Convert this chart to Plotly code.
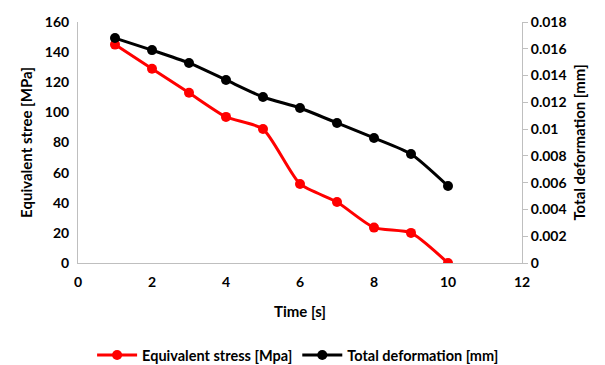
import plotly.graph_objects as go

time_s = [1, 2, 3, 4, 5, 6, 7, 8, 9, 10]
stress_mpa = [145, 129, 113, 97, 89, 52.5, 40.5, 23.5, 20, 0]
deformation_mm = [0.0168, 0.0159, 0.01494, 0.01367, 0.0124, 0.01158, 0.01046, 0.00934, 0.00814, 0.00575]

font_family = "Lato"
axis_col = "#bfbfbf"

fig = go.Figure()
fig.add_trace(go.Scatter(
    x=time_s, y=stress_mpa, name="Equivalent stress [Mpa]",
    mode="lines+markers", line=dict(color="#ff0000", width=3, shape="spline", smoothing=0.6),
    marker=dict(size=10, color="#ff0000"), yaxis="y"))
fig.add_trace(go.Scatter(
    x=time_s, y=deformation_mm, name="Total deformation [mm]",
    mode="lines+markers", line=dict(color="#000000", width=3, shape="spline", smoothing=0.6),
    marker=dict(size=10, color="#000000"), yaxis="y2"))

tick_font = dict(family=font_family, size=14, color="#000000", weight="bold")
title_font = dict(family=font_family, size=15, color="#000000", weight="bold")

fig.update_layout(
    width=605, height=365,
    margin=dict(l=70, r=91, t=14, b=110),
    paper_bgcolor="white", plot_bgcolor="white",
    font=dict(family=font_family, color="#000000"),
    xaxis=dict(range=[0, 12], dtick=2, showgrid=False, zeroline=False,
               showline=True, linecolor=axis_col, linewidth=1, automargin=False,
               tickfont=tick_font, ticks="outside", ticklen=6, tickcolor="rgba(0,0,0,0)",
               title=dict(text="Time [s]", font=title_font, standoff=17)),
    yaxis=dict(range=[0, 160], dtick=20, showgrid=False, zeroline=False,
               showline=True, linecolor=axis_col, linewidth=1, automargin=False,
               tickfont=tick_font, ticks="outside", ticklen=5, tickcolor="rgba(0,0,0,0)",
               title=dict(text="Equivalent stree [MPa]", font=title_font, standoff=8)),
    yaxis2=dict(range=[0, 0.018], dtick=0.002, overlaying="y", side="right",
                showgrid=False, zeroline=False, showline=True, linecolor=axis_col,
                linewidth=1, ticks="outside", ticklen=5, tickcolor=axis_col, automargin=False,
                tickformat="~g", tickfont=tick_font,
                title=dict(text="Total deformation [mm]", font=title_font, standoff=8)),
    legend=dict(orientation="h", x=0.4795, xref="container", xanchor="center",
                y=0.049, yref="container", yanchor="middle",
                font=dict(family=font_family, size=14.5, color="#000000", weight="bold"),
                itemwidth=40, traceorder="normal"),
    showlegend=True,
)

fig.write_html("out.html")
